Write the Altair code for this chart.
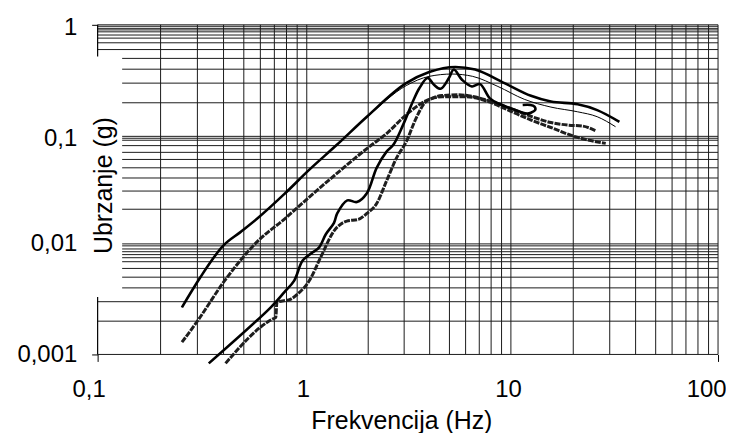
import altair as alt
import pandas as pd

FONT = "Liberation Sans"

# ---- axis ticks -------------------------------------------------------------
x_ticks = [0.1, 1, 10, 100]
y_ticks = [0.001, 0.01, 0.1, 1]

# ---- grid lines -------------------------------------------------------------
v_grid = [0.2, 0.3, 0.4, 0.5, 0.6, 0.7, 0.8, 0.9, 1,
          2, 3, 4, 5, 6, 7, 8, 9, 10,
          20, 30, 40, 50, 60, 70, 80, 90, 100]
# horizontal lines that run from the y axis
h_grid_full = [1, 0.97, 0.93, 0.9, 0.865, 0.81, 0.76, 0.69, 0.6,
               0.003, 0.002, 0.001]
# horizontal lines that stop at the y-axis title box
h_grid_short = [0.5, 0.4, 0.3, 0.2,
                0.1, 0.096, 0.092, 0.082, 0.071, 0.061, 0.051, 0.041, 0.031, 0.021,
                0.01, 0.0096, 0.009, 0.0085, 0.008, 0.0075, 0.0069, 0.006, 0.005, 0.004]
title_box_right = 0.131
# visible pieces of the left axis line
axis_seg_lo = [0.001, 0.52]
axis_seg_hi = [0.0033, 1]

# ---- curves -----------------------------------------------------------------
A_f = [0.253, 0.31, 0.40, 0.48, 0.58, 0.78, 1.03, 1.4, 1.97, 3.07, 3.98, 5.35, 6.68, 9.3, 12.5, 15.6, 21.0, 26.1, 33.4]
A_g = [0.00267, 0.005, 0.0097, 0.0128, 0.0172, 0.029, 0.049, 0.083, 0.15, 0.30, 0.377, 0.419, 0.397, 0.30, 0.231, 0.205, 0.194, 0.172, 0.135]

B_f = [0.253, 0.31, 0.40, 0.48, 0.58, 0.78, 1.03, 1.4, 1.97, 3.07, 3.98, 5.15, 6.5, 8.64, 11.6, 15.6, 21.0, 26.1, 32.0]
B_g = [0.00267, 0.005, 0.0097, 0.0128, 0.0172, 0.029, 0.049, 0.083, 0.148, 0.285, 0.345, 0.362, 0.345, 0.28, 0.215, 0.183, 0.166, 0.15, 0.122]

C_f = [0.253, 0.30, 0.40, 0.58, 0.795, 1.0, 1.4, 1.97, 2.46, 3.19, 3.83, 4.62, 5.98, 7.74, 9.7, 12.5, 15.6, 20.2, 28.7]
C_g = [0.00129, 0.002, 0.0045, 0.0105, 0.0175, 0.026, 0.045, 0.077, 0.106, 0.166, 0.208, 0.227, 0.227, 0.205, 0.172, 0.14, 0.12, 0.1, 0.086]

E_f = [0.34, 0.673, 0.78, 0.871, 0.956, 1.07, 1.15, 1.24, 1.36, 1.41, 1.58, 1.76, 1.97, 2.2, 2.46, 2.65,
       2.96, 3.31, 3.56, 3.91, 4.2, 4.53, 4.97, 5.25, 5.76, 6.44, 7.06, 7.89, 8.8, 10.0, 11.0, 12.0,
       12.5, 13.1, 13.0, 12.4, 11.4]
E_g = [0.00083, 0.00267, 0.00365, 0.00466, 0.00707, 0.0084, 0.0093, 0.0123, 0.0157, 0.0192, 0.0254, 0.0245,
       0.0296, 0.0509, 0.0721, 0.083, 0.126, 0.205, 0.27, 0.333, 0.29, 0.267, 0.333, 0.397, 0.322, 0.28,
       0.294, 0.219, 0.195, 0.178, 0.167, 0.16, 0.163, 0.172, 0.185, 0.191, 0.191]

F_f = [0.409, 0.686, 0.711, 0.72, 0.84, 0.905, 1.03, 1.17, 1.36, 1.57, 1.79, 1.97, 2.2, 2.46, 2.75,
       3.07, 3.43, 3.77, 4.13, 4.6, 5.5, 6.5, 7.7, 9.3, 11.0, 12.9, 15.6, 19.0, 22.0, 25.7]
F_g = [0.00083, 0.00209, 0.00216, 0.00296, 0.00317, 0.00352, 0.00466, 0.00757, 0.0132, 0.0163, 0.0169,
       0.0192, 0.0237, 0.0385, 0.0627, 0.089, 0.145, 0.198, 0.22, 0.232, 0.236, 0.228, 0.21, 0.187,
       0.165, 0.148, 0.133, 0.126, 0.124, 0.112]

# ---- scales & axes ----------------------------------------------------------
xscale = alt.Scale(type="log", domain=[0.1, 1, 10, 100], range=[0, 210, 415, 623], nice=False)
yscale = alt.Scale(type="log", domain=[0.001, 0.01, 0.1, 1], range=[331, 220, 112, 0], nice=False)

xaxis = alt.Axis(
    values=x_ticks, grid=False, domain=False,
    ticks=True, tickSize=7, tickColor="black", tickWidth=1,
    tickOpacity={"condition": {"test": "datum.value == 0.1 || datum.value == 100", "value": 1}, "value": 0},
    labelExpr="replace(toString(datum.value), '.', ',')",
    labelFont=FONT, labelFontSize=24, labelColor="black", labelPadding=16,
    labelFlush=False, labelOverlap=False,
    labelOffset={"condition": [
        {"test": "datum.value == 0.1", "value": -9},
        {"test": "datum.value == 1", "value": -4},
        {"test": "datum.value == 10", "value": -3},
        {"test": "datum.value == 100", "value": -12}], "value": 0},
    title="Frekvencija (Hz)", titleFont=FONT, titleFontSize=25, titleFontWeight="normal",
    titleColor="black", titleX=305, titleY=74, titleBaseline="alphabetic", titleAlign="center",
)
yaxis = alt.Axis(
    values=y_ticks, grid=False, domain=False,
    ticks=True, tickSize=6, tickColor="black", tickWidth=1,
    tickOpacity={"condition": {"test": "datum.value == 1 || datum.value == 0.001", "value": 1}, "value": 0},
    labelExpr="replace(toString(datum.value), '.', ',')",
    labelFont=FONT, labelFontSize=24, labelColor="black", labelPadding=15,
    labelOverlap=False,
    labelOffset={"condition": [
        {"test": "datum.value == 1", "value": 3},
        {"test": "datum.value == 0.1", "value": 2}], "value": 0},
    title="Ubrzanje (g)", titleFont=FONT, titleFontSize=25, titleFontWeight="normal",
    titleColor="black", titleX=14, titleY=161, titleAngle=270, titleBaseline="alphabetic",
    titleAlign="center",
)

X = alt.X("x:Q", scale=xscale, axis=xaxis)
Y = alt.Y("y:Q", scale=yscale, axis=yaxis)

GRID = "#1a1a1a"

vgrid = alt.Chart(pd.DataFrame({"x": v_grid, "y": [0.001] * len(v_grid), "y2": [1] * len(v_grid)})).mark_rule(
    color=GRID, strokeWidth=1).encode(x=X, y=Y, y2="y2:Q")

hfull = alt.Chart(pd.DataFrame({"y": h_grid_full, "x": [0.1] * len(h_grid_full), "x2": [100] * len(h_grid_full)})).mark_rule(
    color=GRID, strokeWidth=1).encode(x=X, x2="x2:Q", y=Y)

hshort = alt.Chart(pd.DataFrame({"y": h_grid_short, "x": [title_box_right] * len(h_grid_short),
                                 "x2": [100] * len(h_grid_short)})).mark_rule(
    color=GRID, strokeWidth=1).encode(x=X, x2="x2:Q", y=Y)

axseg = alt.Chart(pd.DataFrame({"x": [0.1, 0.1], "y": axis_seg_lo, "y2": axis_seg_hi})).mark_rule(
    color="black", strokeWidth=1.2).encode(x=X, y=Y, y2="y2:Q")


def curve(fs, gs, width, dash=None, color="black", interp="monotone"):
    df = pd.DataFrame({"x": fs, "y": gs, "i": list(range(len(fs)))})
    kw = dict(color=color, strokeWidth=width, interpolate=interp, clip=False)
    if dash:
        kw["strokeDash"] = dash
    return alt.Chart(df).mark_line(**kw).encode(x=X, y=Y, order="i:Q")


DASHC = "#1e1e1e"
lines = [
    curve(C_f, C_g, 3, dash=[6, 1.2], color=DASHC),
    curve(F_f, F_g, 3, dash=[6, 1.2], color=DASHC),
    curve(A_f, A_g, 2.6),
    curve(B_f, B_g, 1.0),
    curve(E_f, E_g, 2.6, interp="catmull-rom"),
]

chart = alt.layer(vgrid, hfull, hshort, axseg, *lines).properties(
    width=623, height=331,
    autosize=alt.AutoSizeParams(type="none"),
    padding={"left": 90, "top": 16, "right": 8, "bottom": 78},
    background="white",
).configure_view(stroke=None)

chart.save("out.html", embed_options={"renderer": "svg", "actions": False})
